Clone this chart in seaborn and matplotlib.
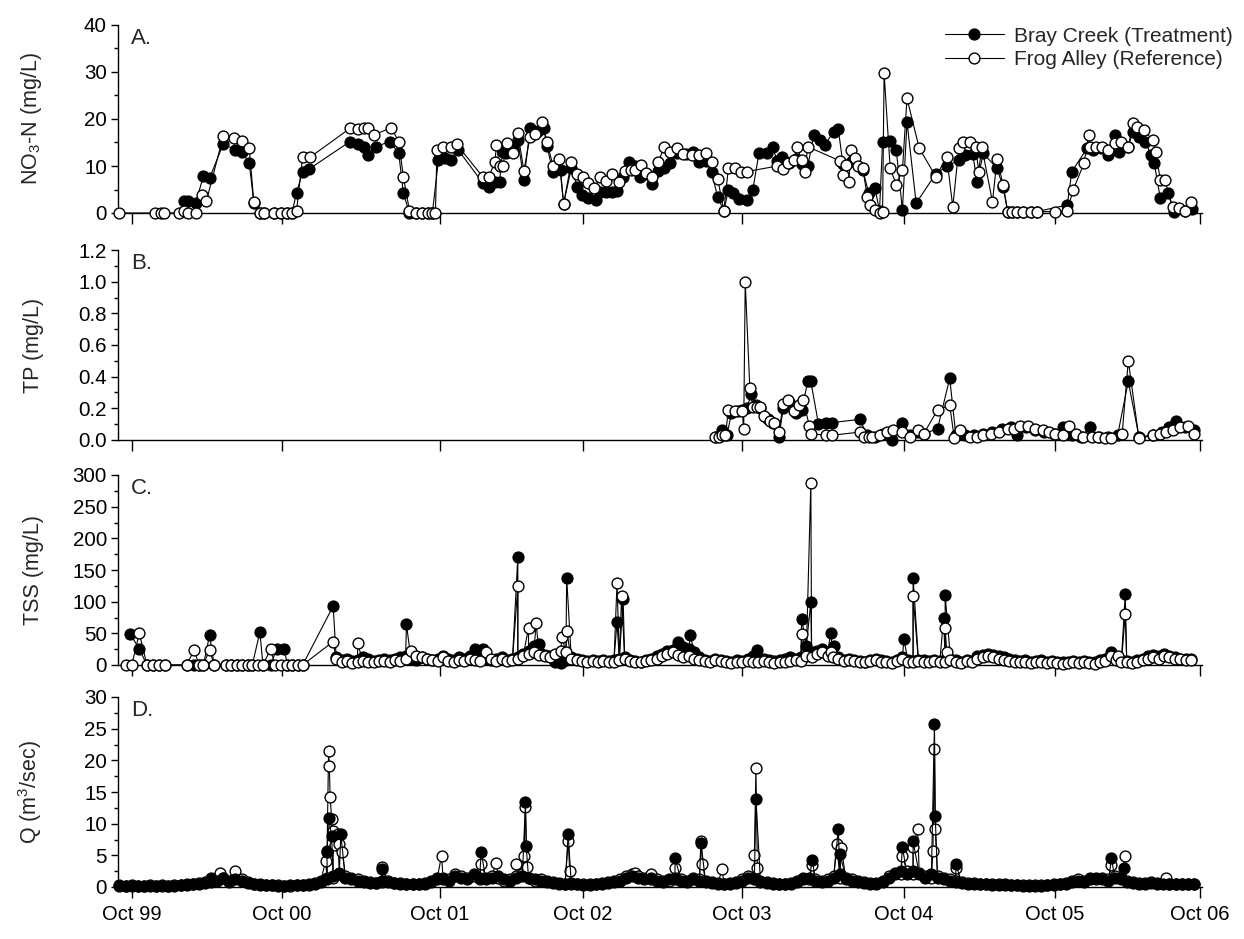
import numpy as np
import pandas as pd
import matplotlib
matplotlib.use("Agg")
import matplotlib.pyplot as plt
import seaborn as sns
from matplotlib.ticker import MultipleLocator, FormatStrFormatter

# ---------------- data (x = years after October 1999) ----------------
year_ticks = [0.0, 0.983, 2.020, 2.957, 3.997, 5.061, 6.047, 7.0]
year_labels = ["Oct 99", "Oct 00", "Oct 01", "Oct 02", "Oct 03", "Oct 04", "Oct 05", "Oct 06"]
series_names = ["Bray Creek (Treatment)", "Frog Alley (Reference)"]

# Panel A: NO3-N (mg/L)
no3_bray = [(0.34, 2.5), (0.37, 2.5), (0.42, 2.2), (0.47, 7.9), (0.51, 7.4), (0.60, 14.7), (0.68, 13.4),
            (0.72, 13.0), (0.77, 10.7), (0.80, 2.2), (0.84, 0), (0.87, 0), (0.93, 0), (0.98, 0), (1.02, 0),
            (1.05, 0), (1.08, 4.3), (1.12, 8.8), (1.16, 9.3), (1.43, 15.2), (1.48, 14.7), (1.52, 14.1),
            (1.55, 12.3), (1.60, 14.1), (1.69, 15.2), (1.75, 12.7), (1.78, 4.2), (1.82, 0), (1.86, 0),
            (1.90, 0), (1.94, 0), (1.97, 0), (2.01, 11.3), (2.05, 11.6), (2.09, 11.3), (2.14, 13.4),
            (2.30, 6.4), (2.34, 5.6), (2.38, 6.7), (2.41, 6.7), (2.43, 13.0), (2.45, 12.7), (2.50, 14.0),
            (2.53, 15.5), (2.57, 7.0), (2.61, 18.0), (2.66, 17.5), (2.70, 18.0), (2.72, 14.3), (2.76, 8.8),
            (2.81, 9.1), (2.83, 2.0), (2.88, 9.5), (2.92, 5.6), (2.95, 3.8), (2.99, 3.1), (3.04, 2.8),
            (3.07, 4.5), (3.11, 4.4), (3.15, 4.5), (3.18, 4.7), (3.22, 7.7), (3.26, 10.8), (3.30, 9.9),
            (3.33, 7.7), (3.37, 8.4), (3.41, 6.2), (3.45, 9.0), (3.49, 9.5), (3.53, 10.6), (3.57, 12.7),
            (3.63, 12.6), (3.68, 13.0), (3.72, 10.8), (3.76, 11.0), (3.80, 8.7), (3.84, 3.3), (3.88, 0.5),
            (3.91, 4.9), (3.94, 4.2), (3.98, 2.9), (4.03, 2.8), (4.07, 5.0), (4.11, 12.7), (4.16, 12.7),
            (4.20, 14.0), (4.23, 11.0), (4.26, 12.0), (4.31, 10.6), (4.35, 11.5), (4.39, 10.5), (4.43, 10.0),
            (4.47, 16.6), (4.51, 15.5), (4.54, 14.5), (4.60, 17.3), (4.63, 17.8), (4.66, 10.5), (4.72, 11.0),
            (4.79, 9.1), (4.83, 4.2), (4.87, 5.3), (4.90, 0.5), (4.92, 15.0), (4.97, 15.4), (5.01, 13.4),
            (5.05, 0.6), (5.08, 19.4), (5.14, 2.1), (5.27, 8.4), (5.34, 9.9), (5.42, 11.3), (5.46, 12.3),
            (5.51, 12.6), (5.54, 6.7), (5.58, 12.7), (5.67, 9.5), (5.71, 5.5), (5.74, 0.3), (5.77, 0.3),
            (5.80, 0.3), (5.84, 0.3), (5.89, 0.3), (5.93, 0.3), (6.13, 1.7), (6.16, 8.8), (6.26, 13.8),
            (6.30, 13.4), (6.35, 13.8), (6.40, 12.3), (6.44, 16.6), (6.47, 13.0), (6.53, 14.1), (6.56, 17.3),
            (6.60, 16.2), (6.64, 15.2), (6.68, 12.3), (6.70, 10.6), (6.74, 3.1), (6.79, 4.2), (6.83, 0.3),
            (6.90, 0.5), (6.95, 0.8)]
no3_frog = [(-0.08, 0), (0.15, 0), (0.19, 0), (0.21, 0), (0.31, 0), (0.34, 0.4), (0.37, 0), (0.42, 0),
            (0.46, 3.8), (0.49, 2.6), (0.60, 16.4), (0.67, 15.9), (0.72, 15.4), (0.77, 13.9), (0.80, 2.4),
            (0.84, 0), (0.87, 0), (0.93, 0), (0.98, 0), (1.02, 0), (1.05, 0), (1.08, 0.4), (1.12, 12.0),
            (1.17, 11.9), (1.43, 18.0), (1.48, 17.8), (1.52, 18.0), (1.55, 18.0), (1.59, 16.7), (1.70, 18.1),
            (1.75, 15.2), (1.78, 7.7), (1.82, 0.5), (1.86, 0), (1.90, 0), (1.94, 0), (1.97, 0), (1.99, 0),
            (2.00, 13.3), (2.04, 14.1), (2.09, 14.1), (2.13, 14.6), (2.30, 7.7), (2.34, 7.7), (2.38, 10.9),
            (2.39, 14.5), (2.41, 9.9), (2.43, 9.9), (2.46, 14.8), (2.50, 12.8), (2.53, 17.0), (2.57, 9.0),
            (2.61, 16.2), (2.64, 16.8), (2.69, 19.4), (2.72, 15.2), (2.76, 10.1), (2.80, 11.4), (2.83, 1.9),
            (2.88, 10.8), (2.92, 8.4), (2.96, 7.7), (2.99, 6.3), (3.03, 5.3), (3.07, 7.6), (3.11, 6.9),
            (3.15, 8.4), (3.19, 6.7), (3.23, 9.0), (3.27, 9.1), (3.30, 9.1), (3.34, 10.2), (3.37, 8.6),
            (3.41, 7.7), (3.45, 10.8), (3.49, 14.1), (3.53, 13.0), (3.57, 13.8), (3.61, 12.6), (3.67, 12.4),
            (3.72, 12.4), (3.76, 12.8), (3.80, 10.8), (3.84, 7.2), (3.88, 0.5), (3.91, 9.6), (3.95, 9.5),
            (3.99, 8.7), (4.03, 8.8), (4.23, 10.0), (4.27, 9.4), (4.30, 10.6), (4.34, 11.3), (4.36, 14.1),
            (4.39, 11.2), (4.41, 8.8), (4.43, 14.1), (4.64, 11.1), (4.66, 8.0), (4.68, 10.2), (4.70, 6.6),
            (4.71, 13.4), (4.74, 11.6), (4.76, 9.9), (4.79, 9.5), (4.82, 3.5), (4.84, 1.7), (4.87, 0.6),
            (4.90, 0), (4.92, 0.3), (4.93, 29.7), (4.97, 9.5), (5.01, 6.0), (5.05, 9.1), (5.08, 24.4),
            (5.16, 13.8), (5.27, 7.7), (5.34, 12.0), (5.38, 1.3), (5.42, 13.8), (5.45, 15.2), (5.49, 15.2),
            (5.53, 14.1), (5.55, 8.8), (5.57, 14.1), (5.64, 2.4), (5.67, 11.4), (5.71, 6.0), (5.74, 0.3),
            (5.77, 0.3), (5.80, 0.3), (5.84, 0.3), (5.89, 0.3), (5.93, 0.3), (6.05, 0.3), (6.13, 0.5),
            (6.17, 5.0), (6.24, 10.6), (6.27, 16.6), (6.28, 14.1), (6.32, 14.1), (6.36, 14.1), (6.40, 13.4),
            (6.44, 14.8), (6.48, 15.2), (6.53, 14.1), (6.56, 19.1), (6.59, 18.2), (6.63, 17.7), (6.69, 15.5),
            (6.71, 13.0), (6.74, 7.0), (6.77, 7.0), (6.82, 1.3), (6.86, 1.0), (6.90, 0.5), (6.94, 2.4)]

# Panel B: TP (mg/L)
tp_bray = [(3.83, 0.02), (3.87, 0.06), (3.90, 0.03), (3.93, 0.17), (3.97, 0.18), (4.00, 0.19), (4.03, 0.20),
           (4.06, 0.29), (4.09, 0.22), (4.12, 0.20), (4.17, 0.13), (4.20, 0.11), (4.24, 0.02), (4.27, 0.20),
           (4.31, 0.24), (4.35, 0.17), (4.39, 0.19), (4.43, 0.37), (4.45, 0.37), (4.50, 0.10), (4.55, 0.11),
           (4.59, 0.11), (4.77, 0.13), (4.82, 0.03), (4.87, 0.02), (4.92, 0.04), (4.98, 0.0), (5.05, 0.11),
           (5.10, 0.03), (5.15, 0.05), (5.19, 0.04), (5.28, 0.07), (5.36, 0.39), (5.40, 0.03), (5.46, 0.03),
           (5.52, 0.03), (5.58, 0.04), (5.64, 0.05), (5.70, 0.07), (5.76, 0.08), (5.80, 0.03), (5.86, 0.08),
           (5.92, 0.06), (5.98, 0.05), (6.04, 0.04), (6.10, 0.08), (6.16, 0.03), (6.22, 0.02), (6.28, 0.08),
           (6.34, 0.02), (6.40, 0.02), (6.46, 0.03), (6.53, 0.37), (6.60, 0.02), (6.69, 0.03), (6.75, 0.05),
           (6.80, 0.08), (6.84, 0.12), (6.90, 0.08), (6.96, 0.06)]
tp_frog = [(3.82, 0.02), (3.85, 0.02), (3.87, 0.03), (3.89, 0.03), (3.91, 0.19), (3.95, 0.18), (4.00, 0.18),
           (4.01, 0.07), (4.02, 1.0), (4.05, 0.33), (4.07, 0.21), (4.10, 0.21), (4.12, 0.21), (4.14, 0.15),
           (4.18, 0.12), (4.21, 0.11), (4.24, 0.05), (4.27, 0.23), (4.30, 0.25), (4.34, 0.18), (4.37, 0.22),
           (4.40, 0.25), (4.44, 0.09), (4.45, 0.04), (4.55, 0.03), (4.59, 0.03), (4.77, 0.05), (4.80, 0.02),
           (4.83, 0.02), (4.85, 0.02), (4.90, 0.03), (4.95, 0.05), (4.99, 0.06), (5.05, 0.05), (5.10, 0.02),
           (5.15, 0.06), (5.19, 0.04), (5.28, 0.19), (5.36, 0.22), (5.39, 0.01), (5.43, 0.06), (5.49, 0.02),
           (5.54, 0.02), (5.58, 0.03), (5.63, 0.04), (5.68, 0.05), (5.74, 0.07), (5.78, 0.07), (5.82, 0.09),
           (5.87, 0.09), (5.92, 0.07), (5.97, 0.06), (6.01, 0.05), (6.05, 0.04), (6.10, 0.03), (6.14, 0.09),
           (6.19, 0.04), (6.23, 0.02), (6.29, 0.02), (6.33, 0.02), (6.38, 0.01), (6.42, 0.01), (6.49, 0.04),
           (6.53, 0.50), (6.60, 0.01), (6.69, 0.03), (6.74, 0.04), (6.78, 0.05), (6.82, 0.06), (6.87, 0.08),
           (6.92, 0.09), (6.96, 0.04)]

# Panel C: TSS (mg/L) - early grab samples
tss_bray_early = [(-0.01, 49), (0.05, 25), (0.10, 0), (0.14, 0), (0.18, 0), (0.22, 0), (0.36, 0), (0.41, 0),
                  (0.44, 0), (0.47, 0), (0.51, 47), (0.54, 0), (0.62, 0), (0.65, 0), (0.69, 0), (0.72, 0),
                  (0.76, 0), (0.79, 0), (0.84, 52), (0.86, 0), (0.91, 0), (0.95, 25), (1.00, 25), (1.02, 0),
                  (1.05, 0), (1.09, 0), (1.12, 0)]
tss_frog_early = [(-0.04, 0), (0.00, 0), (0.05, 50), (0.10, 0), (0.14, 0), (0.18, 0), (0.22, 0), (0.36, 0),
                  (0.41, 24), (0.44, 0), (0.47, 0), (0.51, 24), (0.54, 0), (0.62, 0), (0.65, 0), (0.69, 0),
                  (0.72, 0), (0.76, 0), (0.79, 0), (0.83, 0), (0.86, 0), (0.91, 25), (0.94, 0), (0.98, 0),
                  (1.02, 0), (1.05, 0), (1.09, 0), (1.12, 0)]
# weekly-ish samples from 1.34 to 6.94 years (161 samples)
tss_sched_start, tss_sched_end, tss_sched_n = 1.34, 6.94, 161
tss_bray_base = [12, 8, 10, 6, 8, 12, 10, 6, 8, 10,
                 8, 10, 12, 14, 10, 8, 12, 10, 8, 10,
                 14, 10, 8, 12, 10, 14, 25, 12, 10, 8,
                 10, 12, 8, 10, 12, 18, 22, 30, 20, 16,
                 15, 5, 3, 8, 12, 10, 8, 6, 8, 6,
                 8, 6, 8, 10, 12, 8, 6, 5, 8, 10,
                 14, 18, 22, 24, 30, 28, 25, 20, 12, 8,
                 6, 10, 8, 6, 5, 8, 6, 10, 14, 8,
                 10, 8, 6, 8, 10, 12, 10, 12, 30, 20,
                 22, 25, 20, 16, 12, 8, 10, 8, 6, 5,
                 8, 10, 8, 6, 5, 8, 12, 8, 6, 8,
                 8, 6, 8, 6, 8, 10, 8, 5, 8, 6,
                 14, 16, 18, 16, 14, 12, 10, 8, 6, 8,
                 5, 6, 8, 5, 6, 5, 4, 5, 6, 5,
                 6, 5, 4, 8, 10, 20, 12, 8, 6, 5,
                 8, 10, 14, 16, 14, 18, 15, 12, 10, 10, 9]
tss_frog_base = [9, 4, 6, 3, 5, 6, 5, 4, 7, 6,
                 5, 8, 6, 10, 22, 14, 12, 10, 8, 6,
                 12, 7, 5, 8, 6, 10, 8, 6, 20, 9,
                 7, 9, 6, 8, 10, 15, 18, 20, 16, 14,
                 12, 18, 22, 20, 10, 8, 6, 5, 7, 5,
                 6, 4, 5, 8, 10, 6, 5, 4, 6, 8,
                 10, 14, 18, 20, 16, 12, 15, 10, 8, 6,
                 5, 8, 6, 4, 3, 5, 4, 6, 5, 4,
                 6, 4, 3, 5, 4, 6, 8, 6, 15, 12,
                 18, 20, 14, 12, 10, 6, 8, 6, 5, 4,
                 6, 8, 5, 4, 3, 6, 10, 5, 4, 6,
                 5, 4, 6, 4, 5, 8, 5, 3, 6, 4,
                 10, 12, 14, 12, 10, 8, 6, 5, 4, 5,
                 3, 4, 5, 3, 4, 3, 2, 3, 4, 3,
                 4, 3, 2, 5, 6, 15, 8, 5, 4, 3,
                 5, 8, 10, 12, 10, 14, 12, 10, 9, 8, 8]
tss_bray_events = [(1.32, 93), (1.80, 64), (2.30, 25), (2.53, 171), (2.67, 33), (2.85, 138), (3.18, 68),
                   (3.22, 104), (3.58, 37), (3.66, 48), (4.10, 23), (4.39, 73), (4.45, 99), (4.58, 50),
                   (4.60, 30), (5.06, 41), (5.12, 138), (5.32, 74), (5.33, 111), (6.51, 112)]
tss_frog_events = [(1.32, 37), (1.48, 34), (2.53, 125), (2.60, 58), (2.65, 66), (2.82, 44), (2.85, 54),
                   (3.18, 130), (3.21, 109), (4.39, 49), (4.45, 288), (4.58, 20), (5.12, 109), (5.33, 59),
                   (5.34, 21), (6.46, 15), (6.51, 80)]

# Panel D: Q (m3/sec) - regular samples from -0.08 to 6.96 years (177 samples)
q_sched_start, q_sched_end, q_sched_n = -0.08, 6.96, 177
q_bray_base = [0.3, 0.2, 0.2, 0.2, 0.2, 0.2, 0.2, 0.3, 0.2, 0.2,
               0.3, 0.3, 0.4, 0.5, 0.6, 0.8, 1.0, 1.5, 0.8, 1.2,
               1.0, 0.6, 0.4, 0.3, 0.3, 0.3, 0.2, 0.2, 0.3, 0.3,
               0.3, 0.4, 0.5, 0.8, 1.2, 1.8, 2.0, 1.5, 1.2, 1.0,
               0.8, 0.7, 0.6, 1.0, 0.8, 0.6, 0.5, 0.5, 0.4, 0.4,
               0.5, 0.8, 1.5, 1.2, 1.0, 1.8, 1.5, 1.2, 2.0, 1.5,
               1.2, 1.5, 1.8, 1.2, 1.0, 1.5, 1.8, 1.5, 1.2, 1.0,
               0.8, 0.6, 0.5, 0.5, 0.6, 0.4, 0.3, 0.3, 0.4, 0.5,
               0.6, 0.8, 1.0, 1.5, 1.8, 1.5, 1.2, 1.5, 1.0, 0.8,
               1.2, 1.5, 1.0, 0.8, 1.2, 1.0, 0.8, 0.6, 0.5, 0.5,
               0.5, 0.6, 1.0, 1.5, 1.2, 0.8, 0.6, 0.5, 0.5, 0.4,
               0.5, 0.8, 1.2, 1.5, 1.0, 0.8, 1.0, 1.5, 2.0, 1.5,
               1.0, 0.8, 0.6, 0.5, 0.5, 0.8, 1.5, 2.0, 2.5, 2.0,
               2.5, 2.0, 1.5, 2.0, 1.5, 1.2, 1.0, 0.8, 0.6, 0.5,
               0.5, 0.4, 0.4, 0.3, 0.3, 0.3, 0.3, 0.3, 0.2, 0.2,
               0.2, 0.2, 0.3, 0.3, 0.4, 0.5, 0.8, 1.0, 0.8, 1.2,
               1.5, 1.2, 1.0, 1.5, 1.2, 0.8, 0.6, 0.5, 0.5, 0.6,
               0.5, 0.5, 0.4, 0.4, 0.4, 0.4, 0.4]
q_frog_base = [0.2, 0.2, 0.3, 0.2, 0.2, 0.3, 0.2, 0.2, 0.2, 0.3,
               0.3, 0.4, 0.4, 0.6, 0.8, 1.0, 1.2, 1.4, 1.0, 1.5,
               1.2, 0.8, 0.5, 0.4, 0.3, 0.3, 0.3, 0.2, 0.2, 0.3,
               0.3, 0.3, 0.6, 1.0, 1.5, 1.5, 2.2, 1.8, 1.4, 1.2,
               1.0, 0.8, 0.7, 0.8, 1.0, 0.7, 0.6, 0.5, 0.5, 0.4,
               0.6, 1.0, 1.2, 1.5, 1.2, 2.0, 1.8, 1.5, 1.8, 1.2,
               1.5, 1.8, 1.5, 1.0, 1.2, 1.8, 2.0, 1.5, 1.0, 1.2,
               1.0, 0.8, 0.6, 0.5, 0.5, 0.5, 0.4, 0.4, 0.5, 0.6,
               0.8, 1.0, 1.2, 1.8, 2.0, 1.8, 1.5, 1.2, 1.2, 1.0,
               1.0, 1.2, 1.2, 1.0, 1.5, 1.2, 1.0, 0.8, 0.6, 0.5,
               0.6, 0.8, 1.2, 1.8, 1.5, 1.0, 0.8, 0.6, 0.5, 0.5,
               0.6, 1.0, 1.5, 1.2, 1.2, 1.0, 1.2, 1.8, 1.5, 1.2,
               1.2, 1.0, 0.8, 0.6, 0.6, 1.0, 1.8, 2.2, 2.0, 2.5,
               2.0, 2.2, 1.8, 1.5, 1.8, 1.5, 1.2, 1.0, 0.8, 0.6,
               0.6, 0.5, 0.5, 0.4, 0.4, 0.4, 0.3, 0.3, 0.3, 0.3,
               0.3, 0.3, 0.3, 0.4, 0.5, 0.6, 1.0, 1.2, 1.0, 1.5,
               1.2, 1.5, 1.2, 1.8, 1.5, 1.0, 0.8, 0.6, 0.6, 0.8,
               0.6, 0.6, 0.5, 0.5, 0.5, 0.4, 0.4]
q_bray_events = [(0.52, 1.5), (1.28, 5.5), (1.29, 10.9), (1.31, 8.0), (1.37, 8.3), (1.64, 2.8), (2.29, 5.6),
                 (2.58, 13.4), (2.585, 6.4), (2.86, 8.4), (3.56, 4.6), (3.73, 7.0), (4.09, 13.9), (4.46, 4.3),
                 (4.63, 9.2), (4.64, 5.2), (5.05, 6.3), (5.12, 7.2), (5.26, 25.7), (5.265, 11.2), (5.40, 3.6),
                 (6.42, 4.6), (6.50, 3.0)]
q_frog_events = [(0.58, 2.2), (0.68, 2.6), (1.27, 4.1), (1.28, 5.7), (1.29, 21.5), (1.295, 19.1), (1.30, 14.2),
                 (1.31, 10.8), (1.32, 8.8), (1.33, 6.7), (1.35, 8.3), (1.36, 6.8), (1.38, 5.5), (1.64, 3.1),
                 (2.03, 4.9), (2.29, 3.7), (2.39, 3.8), (2.52, 3.6), (2.57, 4.9), (2.58, 12.7), (2.59, 3.1),
                 (2.86, 7.3), (2.87, 2.6), (3.30, 2.2), (3.40, 2.0), (3.56, 3.0), (3.73, 7.2), (3.74, 3.6),
                 (3.87, 2.8), (4.08, 5.0), (4.09, 18.8), (4.10, 3.0), (4.46, 3.5), (4.62, 6.8), (4.65, 6.1),
                 (5.05, 4.9), (5.12, 6.3), (5.15, 9.1), (5.25, 5.7), (5.26, 21.8), (5.265, 9.2), (5.40, 3.0),
                 (6.42, 3.5), (6.51, 4.9), (6.78, 1.5)]


# ---------------- helpers ----------------
def pairs_df(*parts):
    xs, ys = [], []
    for p in parts:
        for x, y in p:
            xs.append(x)
            ys.append(y)
    df = pd.DataFrame({"x": xs, "y": ys})
    return df.sort_values("x", kind="stable").reset_index(drop=True)


def sched_pairs(start, end, n, values):
    xs = np.linspace(start, end, n)
    return list(zip(xs, values))


panels = [
    ("NO$_3$-N (mg/L)", "A.", pairs_df(no3_bray), pairs_df(no3_frog), (0, 40), 10, 5, "%d"),
    ("TP (mg/L)", "B.", pairs_df(tp_bray), pairs_df(tp_frog), (0, 1.2), 0.2, 0.1, "%.1f"),
    ("TSS (mg/L)", "C.",
     pairs_df(tss_bray_early, sched_pairs(tss_sched_start, tss_sched_end, tss_sched_n, tss_bray_base), tss_bray_events),
     pairs_df(tss_frog_early, sched_pairs(tss_sched_start, tss_sched_end, tss_sched_n, tss_frog_base), tss_frog_events),
     (0, 300), 50, 25, "%d"),
    ("Q (m$^3$/sec)", "D.",
     pairs_df(sched_pairs(q_sched_start, q_sched_end, q_sched_n, q_bray_base), q_bray_events),
     pairs_df(sched_pairs(q_sched_start, q_sched_end, q_sched_n, q_frog_base), q_frog_events),
     (0, 30), 5, 2.5, "%d"),
]

# ---------------- figure ----------------
sns.set_theme(style="ticks")
plt.rcParams["font.family"] = ["Liberation Sans", "DejaVu Sans"]
plt.rcParams["mathtext.fontset"] = "custom"
plt.rcParams["mathtext.rm"] = "Liberation Sans"
plt.rcParams["mathtext.it"] = "Liberation Sans:italic"

W, H = 1244, 939
fig = plt.figure(figsize=(W / 100, H / 100), dpi=100)

left_px, right_px = 118, 1202
panel_px = [(25, 213), (250, 440), (475, 665), (697, 887)]
xlim = (-0.0898, 7.013)

ms, mew, lw = 7.8, 1.0, 0.8

for i, ((ylab, letter, dfb, dff, ylim, major, minor, fmt), (top, bot)) in enumerate(zip(panels, panel_px)):
    ax = fig.add_axes([left_px / W, 1 - bot / H, (right_px - left_px) / W, (bot - top) / H])
    # in the dense discharge panel the filled series forms the black baseline band
    z_bray, z_frog = (4, 3) if i == 3 else (3, 4)
    sns.lineplot(data=dfb, x="x", y="y", ax=ax, estimator=None, sort=False, color="black",
                 linewidth=lw, marker="o", markersize=ms, markerfacecolor="black",
                 markeredgecolor="black", markeredgewidth=mew, clip_on=False, label=series_names[0],
                 zorder=z_bray)
    sns.lineplot(data=dff, x="x", y="y", ax=ax, estimator=None, sort=False, color="black",
                 linewidth=lw, marker="o", markersize=ms, markerfacecolor="white",
                 markeredgecolor="black", markeredgewidth=mew, clip_on=False, label=series_names[1],
                 zorder=z_frog)
    ax.set_xlim(*xlim)
    ax.set_ylim(*ylim)
    ax.yaxis.set_major_locator(MultipleLocator(major))
    ax.yaxis.set_minor_locator(MultipleLocator(minor))
    ax.yaxis.set_major_formatter(FormatStrFormatter(fmt))
    ax.set_xticks(year_ticks)
    if i == 3:
        ax.set_xticklabels(year_labels)
    else:
        ax.set_xticklabels([])
    ax.set_xlabel("")
    ax.set_ylabel(ylab, fontsize=15.5)
    ax.yaxis.set_label_coords(-0.068, 0.5)
    for side in ("top", "right"):
        ax.spines[side].set_visible(False)
    for side in ("left", "bottom"):
        ax.spines[side].set_linewidth(1.0)
        ax.spines[side].set_color("black")
    ax.tick_params(axis="y", which="major", direction="out", length=5, width=1, labelsize=14.8,
                   pad=3, colors="black")
    ax.tick_params(axis="y", which="minor", direction="out", length=3, width=1, colors="black")
    ax.tick_params(axis="x", which="major", direction="out", length=8, width=1, labelsize=14.5,
                   pad=5, colors="black")
    ax.patch.set_alpha(0)
    ax.text(0.012, 0.985, letter, transform=ax.transAxes, ha="left", va="top", fontsize=16)
    if i == 0:
        ax.legend(frameon=False, loc="upper right", bbox_to_anchor=(1.036, 1.035),
                  fontsize=15, handlelength=2.8, handletextpad=0.5, labelspacing=0.2,
                  borderaxespad=0)
    else:
        if ax.get_legend() is not None:
            ax.get_legend().remove()

fig.savefig("out.png", dpi=100)
